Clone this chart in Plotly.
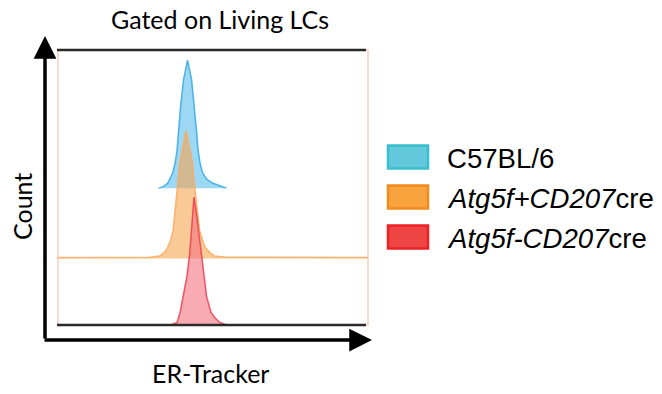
import plotly.graph_objects as go

# ---- data (ER-Tracker channel vs. normalised count, % of mode) ----
labels = ["C57BL/6", "<i>Atg5f+CD207</i>cre", "<i>Atg5f-CD207</i>cre"]
offsets = [107, 52, 0]  # vertical stagger of each overlay histogram

x_blue = [33, 34.4, 36.0, 37.6, 38.4, 39.0, 39.5, 40.1, 41.1, 42.4, 43.7, 44.7, 45.3,
          45.8, 46.5, 47.3, 48.6, 50.5, 53.9, 55]
c_blue = [0, 1, 4, 12, 20, 30, 45, 63, 85, 100, 85, 63, 45, 30, 19, 12, 7, 4, 1, 0]

x_orange = [0, 20, 30, 33.4, 35, 36, 37, 37.7, 38.3, 38.9, 39.4, 39.9, 40.9, 41.9, 42.9,
            44.0, 44.5, 45.0, 45.7, 46.3, 47.2, 48, 49.5, 51, 55, 70, 101]
c_orange = [0.8, 0.8, 1, 2, 5, 9, 15, 22, 35, 48, 61, 75, 88, 100, 88, 75, 61, 48, 35, 22,
            15, 9, 5, 2, 1, 0.8, 0.8]

x_red = [37, 39.0, 40.0, 41.0, 42.2, 43.1, 43.8, 44.5, 45.4, 46.2, 47.0, 47.8, 48.6, 50.0,
         51.5, 52.9, 55]
c_red = [0, 2, 10, 22, 38, 56, 80, 100, 85, 70, 56, 38, 22, 10, 5, 2, 0]

series_x = [x_blue, x_orange, x_red]
series_c = [c_blue, c_orange, c_red]

line_colors = ["rgba(50,168,228,0.85)", "rgba(250,170,95,0.85)", "rgba(240,60,75,0.85)"]
fill_colors = ["rgba(95,190,238,0.62)", "rgba(245,165,80,0.6)", "rgba(243,120,132,0.62)"]
swatch_fill = ["#62c9dc", "#f8a33e", "#ef4444"]
swatch_line = ["#38bfcd", "#f28a1e", "#ec2226"]

# ---- geometry helpers (pixel -> paper) ----
W, H = 662, 394
L, R, T, B = 57, 368, 50, 325
def px(x):
    return (x - L) / (R - L)
def py(y):
    return (B - y) / (B - T)

fig = go.Figure()
for xs, cs, off, lc, fc in zip(series_x, series_c, offsets, line_colors, fill_colors):
    fig.add_trace(go.Scatter(x=[xs[0], xs[-1]], y=[off, off], mode="lines",
                             line=dict(width=0), hoverinfo="skip", showlegend=False))
    fig.add_trace(go.Scatter(x=xs, y=[c + off for c in cs], mode="lines",
                             line=dict(color=lc, width=1.5), fill="tonexty",
                             fillcolor=fc, hoverinfo="skip", showlegend=False))

shapes = []
# light orange frame
shapes.append(dict(type="rect", xref="paper", yref="paper", x0=px(58), x1=px(368),
                   y0=py(325), y1=py(50), line=dict(color="rgba(248,195,175,0.8)", width=1.5)))
# black top and bottom lines of the histogram box
for yy in (50, 325):
    shapes.append(dict(type="line", xref="paper", yref="paper", x0=px(57), x1=px(366),
                       y0=py(yy), y1=py(yy), line=dict(color="#2a2a2a", width=2.5)))
# legend swatches
rows = [157, 197, 237]
for yc, sf, sl in zip(rows, swatch_fill, swatch_line):
    shapes.append(dict(type="rect", xref="paper", yref="paper", x0=px(388), x1=px(428),
                       y0=py(yc + 11.5), y1=py(yc - 11.5), fillcolor=sf,
                       line=dict(color=sl, width=2.5)))

annotations = []
# axis arrows
annotations.append(dict(xref="paper", yref="paper", x=px(45), y=py(36), ax=0, ay=304,
                        text="", showarrow=True, arrowhead=2, arrowsize=1.3,
                        arrowwidth=3.5, arrowcolor="black"))
annotations.append(dict(xref="paper", yref="paper", x=px(372), y=py(340), ax=-329, ay=0,
                        text="", showarrow=True, arrowhead=2, arrowsize=1.3,
                        arrowwidth=3.5, arrowcolor="black"))
# titles
tfont = dict(family="Lato, Open Sans, sans-serif", size=25, color="black")
annotations.append(dict(xref="paper", yref="paper", x=px(220), y=py(19), text="Gated on Living LCs",
                        showarrow=False, font=tfont, xanchor="center", yanchor="middle"))
annotations.append(dict(xref="paper", yref="paper", x=px(22), y=py(207), text="Count",
                        showarrow=False, font=tfont, textangle=-90, xanchor="center",
                        yanchor="middle"))
annotations.append(dict(xref="paper", yref="paper", x=px(210), y=py(373), text="ER-Tracker",
                        showarrow=False, font=tfont, xanchor="center", yanchor="middle"))
# legend labels
lfont = dict(family="Liberation Sans, Arial, sans-serif", size=27.6, color="black")
for yc, lab in zip(rows, labels):
    annotations.append(dict(xref="paper", yref="paper", x=px(445), y=py(yc + 1), text=lab,
                            showarrow=False, font=lfont, xanchor="left", yanchor="middle"))

fig.update_layout(
    width=W, height=H, margin=dict(l=L, r=W - R, t=T, b=H - B),
    paper_bgcolor="white", plot_bgcolor="white",
    xaxis=dict(range=[0, 101], visible=False, fixedrange=True),
    yaxis=dict(range=[0, 215], visible=False, fixedrange=True),
    shapes=shapes, annotations=annotations, showlegend=False,
)
fig.write_html("out.html", config={"displayModeBar": False},
               post_script="document.body.style.margin='0';document.body.style.overflow='hidden';")
